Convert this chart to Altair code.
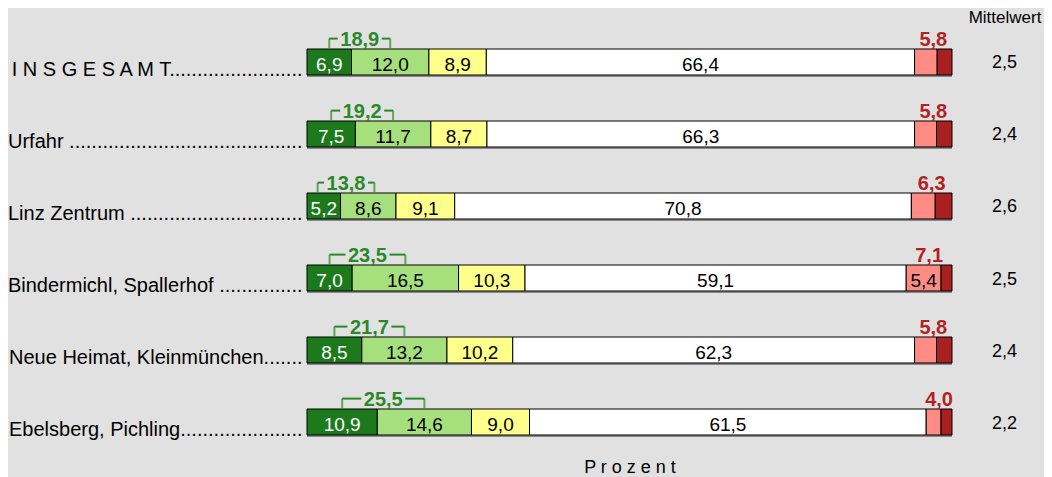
import altair as alt
import pandas as pd

# ---------------- data ----------------
categories = ["I N S G E S A M T", "Urfahr", "Linz Zentrum", "Bindermichl, Spallerhof",
              "Neue Heimat, Kleinmünchen", "Ebelsberg, Pichling"]
leader_dots = [24, 42, 31, 15, 7, 22]
dark_green = [6.9, 7.5, 5.2, 7.0, 8.5, 10.9]
light_green = [12.0, 11.7, 8.6, 16.5, 13.2, 14.6]
yellow = [8.9, 8.7, 9.1, 10.3, 10.2, 9.0]
white = [66.4, 66.3, 70.8, 59.1, 62.3, 61.5]
light_red = [3.5, 3.4, 3.7, 5.4, 3.4, 2.3]
dark_red = [2.3, 2.4, 2.6, 1.7, 2.4, 1.7]
green_sum = [18.9, 19.2, 13.8, 23.5, 21.7, 25.5]
red_sum = [5.8, 5.8, 6.3, 7.1, 5.8, 4.0]
mean_values = [2.5, 2.4, 2.6, 2.5, 2.4, 2.2]

seg_names = ["dg", "lg", "ye", "wh", "lr", "dr"]
seg_colors = ["#1c7a1c", "#a6e07c", "#ffff8c", "#ffffff", "#ff8c84", "#a82020"]

def fmt(v):
    return f"{v:.1f}".replace(".", ",")

row_labels = [c + ("" if c.startswith("Neue") or c.startswith("Ebels") or c.startswith("I N") else " ") + "." * n
              for c, n in zip(categories, leader_dots)]

seg_records = []
row_records = []
for i, lab in enumerate(row_labels):
    vals = [dark_green[i], light_green[i], yellow[i], white[i], light_red[i], dark_red[i]]
    start = 0.0
    for name, v in zip(seg_names, vals):
        show = name in ("dg", "lg", "ye", "wh") or (name == "lr" and v >= 5)
        seg_records.append(dict(row=lab, seg=name, start=start, end=start + v,
                                txt=fmt(v) if show else "",
                                tcol="white" if name == "dg" else "black"))
        start += v
    row_records.append(dict(row=lab, dg=dark_green[i], lg=light_green[i],
                            gtxt=fmt(green_sum[i]), rsum=red_sum[i], rtxt=fmt(red_sum[i]),
                            mtxt=fmt(mean_values[i]), zero=0.0, hundred=100.0))

segs = pd.DataFrame(seg_records)
rowsdf = pd.DataFrame(row_records)

GREEN = "#2a8a2a"
RED = "#b22222"

yenc = alt.Y("row:N", sort=row_labels,
             scale=alt.Scale(paddingInner=0.639, paddingOuter=0),
             axis=alt.Axis(title=None, ticks=False, domain=False, labelFontSize=20,
                           labelLimit=400, labelPadding=5, labelBaseline="alphabetic",
                           labelOffset=14, labelColor="black"))
xscale = alt.Scale(domain=[0, 100], nice=False, zero=False)
xaxis = alt.Axis(labels=False, ticks=False, domain=False, grid=False,
                 title="P r o z e n t", titleFontSize=18, titleFontWeight="normal",
                 titlePadding=23, titleColor="black")

shadow = alt.Chart(rowsdf).mark_bar(color="#8a8a8a", yOffset=2).encode(
    x=alt.X("zero:Q", scale=xscale, axis=xaxis), x2="hundred:Q", y=yenc)

bars = alt.Chart(segs).mark_bar(stroke="black", strokeWidth=1).encode(
    x=alt.X("start:Q", scale=xscale), x2="end:Q", y=yenc,
    color=alt.Color("seg:N", scale=alt.Scale(domain=seg_names, range=seg_colors), legend=None))

seg_text = alt.Chart(segs).transform_filter("datum.txt != ''").transform_calculate(
    mid="(datum.start + datum.end) / 2").mark_text(
    fontSize=19, baseline="alphabetic", dy=9).encode(
    x=alt.X("mid:Q", scale=xscale), y=yenc, text="txt:N",
    color=alt.Color("tcol:N", scale=None))

brk = alt.Chart(rowsdf).transform_calculate(
    gl0="datum.dg / 2", gr0="datum.dg + datum.lg / 2").transform_calculate(
    gm="(datum.gl0 + datum.gr0) / 2").transform_calculate(
    gl="min(datum.gl0, datum.gm - 4.4)", gr="max(datum.gr0, datum.gm + 4.4)")

line_left = brk.mark_rule(color=GREEN, strokeWidth=2, yOffset=-23.4, x2Offset=-22).encode(
    x=alt.X("gl:Q", scale=xscale), x2="gm:Q", y=yenc)
line_right = brk.mark_rule(color=GREEN, strokeWidth=2, yOffset=-23.4, xOffset=22).encode(
    x=alt.X("gm:Q", scale=xscale), x2="gr:Q", y=yenc)
tick_left = brk.mark_tick(color=GREEN, thickness=2, size=9.4, yOffset=-18.7).encode(
    x=alt.X("gl:Q", scale=xscale), y=yenc)
tick_right = brk.mark_tick(color=GREEN, thickness=2, size=9.4, yOffset=-18.7).encode(
    x=alt.X("gr:Q", scale=xscale), y=yenc)
green_lab = brk.mark_text(color=GREEN, fontSize=20, fontWeight="bold",
                          baseline="alphabetic", dy=-16).encode(
    x=alt.X("gm:Q", scale=xscale), y=yenc, text="gtxt:N")

red_lab = alt.Chart(rowsdf).transform_calculate(rm="100 - datum.rsum / 2").mark_text(
    color=RED, fontSize=20, fontWeight="bold", baseline="alphabetic", dy=-16).encode(
    x=alt.X("rm:Q", scale=xscale), y=yenc, text="rtxt:N")

mean_lab = alt.Chart(rowsdf).mark_text(fontSize=18, baseline="alphabetic", dy=6.5,
                                        color="black").encode(
    x=alt.value(697.5), y=yenc, text="mtxt:N")

header = alt.Chart(pd.DataFrame({"t": ["Mittelwert"]})).mark_text(
    fontSize=17, baseline="alphabetic", color="black").encode(
    x=alt.value(698), y=alt.value(-26), text="t:N")

chart = alt.layer(shadow, bars, seg_text, line_left, line_right, tick_left, tick_right,
                  green_lab, red_lab, mean_lab, header).properties(
    width=645, height=386,
    autosize=alt.AutoSizeParams(type="none"),
    padding={"left": 299, "top": 41, "right": 92, "bottom": 42},
    background="#e1e1e1",
).configure(font="Liberation Sans").configure_view(stroke=None)

chart.save("out.html", embed_options={"renderer": "svg", "actions": False})
